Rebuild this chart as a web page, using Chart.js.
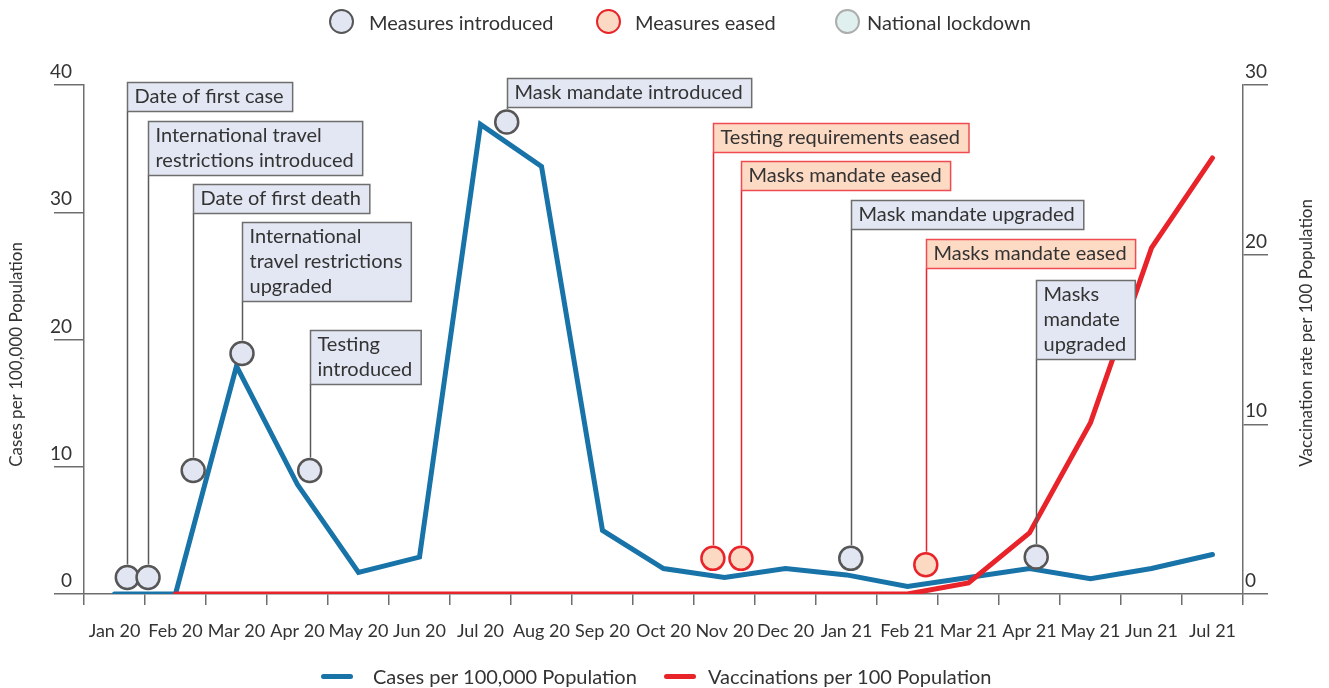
<!DOCTYPE html>
<html>
<head>
<meta charset="utf-8">
<script src="https://cdn.jsdelivr.net/npm/chart.js@4.4.1/dist/chart.umd.min.js"></script>
<style>
  body { margin: 0; background: #fff; font-family: Lato, sans-serif; color: #333; }
  #wrap { position: relative; width: 1329px; height: 688px; }
  #wrap canvas { position: absolute; left: 0; top: 0; }
  .key { position: absolute; font-size: 20px; line-height: 24px; white-space: nowrap; }
  .dot { position: absolute; width: 21px; height: 21px; border-radius: 50%; border: 2.5px solid; }
  .dash { position: absolute; width: 32px; height: 5px; border-radius: 3px; }
</style>
</head>
<body>
<div id="wrap">
  <canvas id="chart" width="1329" height="688"></canvas>

  <!-- top key: event markers -->
  <span class="dot" style="left:329px;top:9px;background:#e2e6f3;border-color:#565656"></span>
  <span class="key" style="left:369px;top:10px">Measures introduced</span>
  <span class="dot" style="left:596px;top:9px;background:#fcd9c3;border-color:#e8232a"></span>
  <span class="key" style="left:635px;top:10px">Measures eased</span>
  <span class="dot" style="left:835px;top:9px;background:#dff0ee;border-color:#adadad"></span>
  <span class="key" style="left:867px;top:10px">National lockdown</span>

  <!-- bottom key: lines -->
  <span class="dash" style="left:321px;top:674px;background:#1873a8"></span>
  <span class="key" style="left:373px;top:664px">Cases per 100,000 Population</span>
  <span class="dash" style="left:664px;top:674px;background:#e8232a"></span>
  <span class="key" style="left:708px;top:664px">Vaccinations per 100 Population</span>
</div>

<script>
// ------------------------------------------- Data --------------------------------------------------

const months = ['Jan 20', 'Feb 20', 'Mar 20', 'Apr 20', 'May 20', 'Jun 20', 'Jul 20', 'Aug 20', 'Sep 20',
    'Oct 20', 'Nov 20', 'Dec 20', 'Jan 21', 'Feb 21', 'Mar 21', 'Apr 21', 'May 21', 'Jun 21', 'Jul 21'];

const cases = [0, 0, 17.9, 8.6, 1.7, 2.9, 36.9, 33.6, 5.0, 2.0, 1.3, 2.0, 1.5, 0.6, 1.3, 2.0, 1.2, 2.0, 3.1];
const vaccinations = [null, 0, 0, 0, 0, 0, 0, 0, 0, 0, 0, 0, 0, 0, 0.65, 3.6, 10.1, 20.4, 25.7];

const casesTicks = [0, 10, 20, 30, 40];
const vaccTicks = [0, 10, 20, 30];

// events: month position (0 = Jan 20) and height on the cases axis
const eventText = [
    ['Date of first case'],
    ['International travel', 'restrictions introduced'],
    ['Date of first death'],
    ['International', 'travel restrictions', 'upgraded'],
    ['Testing', 'introduced'],
    ['Mask mandate introduced'],
    ['Testing requirements eased'],
    ['Masks mandate eased'],
    ['Mask mandate upgraded'],
    ['Masks mandate eased'],
    ['Masks', 'mandate', 'upgraded']
];
const eventKind = ['in', 'in', 'in', 'in', 'in', 'in', 'out', 'out', 'in', 'out', 'in'];
const eventMonth = [0.21, 0.55, 1.29, 2.09, 3.2, 6.43, 9.81, 10.27, 12.07, 13.3, 15.11];
const eventLevel = [1.3, 1.3, 9.7, 18.9, 9.7, 37.1, 2.8, 2.8, 2.8, 2.3, 2.9];

// where each label box sits (top edge, in cases-axis units)
const calloutTop = [40.2, 37.2, 32.2, 29.2, 20.75, 40.55, 37.0, 34.0, 31.0, 27.9, 24.7];

// ------------------------------------------- Styles --------------------------------------------------

const BLUE = '#1873a8';
const RED = '#e8232a';
const AXIS = '#6e6e6e';
const TEXT = '#333333';
const FONT = 'Lato';

function eventPoints(kind) {
    const pts = [];
    eventMonth.forEach((m, i) => {
        if (eventKind[i] === kind) pts.push({ x: m, y: eventLevel[i] });
    });
    return pts;
}

// boxes + stems for each event, and the two axis titles (both read bottom-up)
const callouts = {
    id: 'callouts',
    afterDatasetsDraw(chart) {
        const ctx = chart.ctx;
        const xs = chart.scales.xm;
        const ys = chart.scales.y;
        ctx.save();
        ctx.font = '20px ' + FONT;
        ctx.textBaseline = 'middle';
        ctx.textAlign = 'left';
        eventText.forEach((lines, i) => {
            const eased = eventKind[i] === 'out';
            const px = Math.round(xs.getPixelForValue(eventMonth[i])) + 0.5;
            const py = ys.getPixelForValue(eventLevel[i]);
            const top = Math.round(ys.getPixelForValue(calloutTop[i])) + 0.5;
            const h = lines.length * 25 + 4;
            const w = Math.max(...lines.map(l => ctx.measureText(l).width)) + 16;

            ctx.lineWidth = 1.5;
            ctx.strokeStyle = eased ? RED : '#5a5a5a';
            ctx.beginPath();
            ctx.moveTo(px, top + h);
            ctx.lineTo(px, py - 13);
            ctx.stroke();

            ctx.fillStyle = eased ? '#fddac4' : '#e3e7f3';
            ctx.fillRect(px, top, w, h);
            ctx.strokeStyle = eased ? '#ef4b50' : AXIS;
            ctx.strokeRect(px, top, w, h);

            ctx.fillStyle = TEXT;
            lines.forEach((l, k) => ctx.fillText(l, px + 7, top + 2 + 12.5 + k * 25));
        });
        ctx.restore();
    },
    afterDraw(chart) {
        const ctx = chart.ctx;
        const base = chart.scales.y.getPixelForValue(10);
        ctx.save();
        ctx.font = '17px ' + FONT;
        ctx.fillStyle = TEXT;
        ctx.textBaseline = 'middle';
        ctx.textAlign = 'left';
        [[chart.scales.y.left + 16.5, 'Cases per 100,000 Population'],
         [chart.scales.y2.right - 22, 'Vaccination rate per 100 Population']].forEach(([x, t]) => {
            ctx.save();
            ctx.translate(x, base);
            ctx.rotate(-Math.PI / 2);
            ctx.fillText(t, 0, 0);
            ctx.restore();
        });
        ctx.restore();
    }
};

// ------------------------------------------- Chart.js --------------------------------------------------

document.addEventListener('DOMContentLoaded', function(){

    const ctx = document.getElementById('chart');
    const chart = new Chart(ctx, {
        type: 'line',
        data: {
            labels: months,
            datasets: [{
                type: 'scatter',
                label: 'Measures introduced',
                data: eventPoints('in'),
                xAxisID: 'xm',
                yAxisID: 'y',
                pointRadius: 11.5,
                pointBorderWidth: 2.5,
                pointBackgroundColor: '#e2e6f3',
                pointBorderColor: '#565656',
                clip: false
            }, {
                type: 'scatter',
                label: 'Measures eased',
                data: eventPoints('out'),
                xAxisID: 'xm',
                yAxisID: 'y',
                pointRadius: 11.5,
                pointBorderWidth: 2.5,
                pointBackgroundColor: '#fcd9c3',
                pointBorderColor: RED,
                clip: false
            }, {
                label: 'Vaccinations per 100 Population',
                data: vaccinations,
                yAxisID: 'y2',
                borderColor: RED,
                backgroundColor: RED,
                borderWidth: 5,
                borderCapStyle: 'round',
                pointRadius: 0,
                tension: 0
            }, {
                label: 'Cases per 100,000 Population',
                data: cases,
                yAxisID: 'y',
                borderColor: BLUE,
                backgroundColor: BLUE,
                borderWidth: 5,
                borderCapStyle: 'round',
                pointRadius: 0,
                tension: 0
            }]
        },
        options: {
            responsive: false,
            animation: false,
            events: [],
            layout: { padding: { top: 85, left: 0, right: 0, bottom: 0 } },
            plugins: {
                legend: { display: false },
                tooltip: { enabled: false }
            },
            scales: {
                x: {
                    type: 'category',
                    offset: true,
                    afterFit: s => { s.height = 94; },
                    grid: { offset: true, drawOnChartArea: false, tickLength: 11, color: AXIS, lineWidth: 1.5 },
                    border: { color: AXIS, width: 1.5 },
                    ticks: { color: TEXT, font: { family: FONT, size: 18 }, padding: 15, maxRotation: 0, autoSkip: false }
                },
                xm: { type: 'linear', display: false, min: -0.5, max: 18.5 },
                y: {
                    position: 'left',
                    min: 0,
                    max: 40,
                    afterBuildTicks: s => { s.ticks = casesTicks.map(v => ({ value: v })); },
                    afterFit: s => { s.width = 84; },
                    grid: { drawOnChartArea: false, tickLength: 30, color: AXIS, lineWidth: 1.5 },
                    border: { color: AXIS, width: 1.5 },
                    ticks: { color: TEXT, font: { family: FONT, size: 19 }, padding: -18, labelOffset: -13 }
                },
                y2: {
                    position: 'right',
                    min: 0,
                    max: 30,
                    afterBuildTicks: s => { s.ticks = vaccTicks.map(v => ({ value: v })); },
                    afterFit: s => { s.width = 86; },
                    grid: { drawOnChartArea: false, tickLength: 25, color: AXIS, lineWidth: 1.5 },
                    border: { color: AXIS, width: 1.5 },
                    ticks: { color: TEXT, font: { family: FONT, size: 19 }, padding: -23, labelOffset: -13 }
                }
            }
        },
        plugins: [callouts]
    });

});
</script>
</body>
</html>
